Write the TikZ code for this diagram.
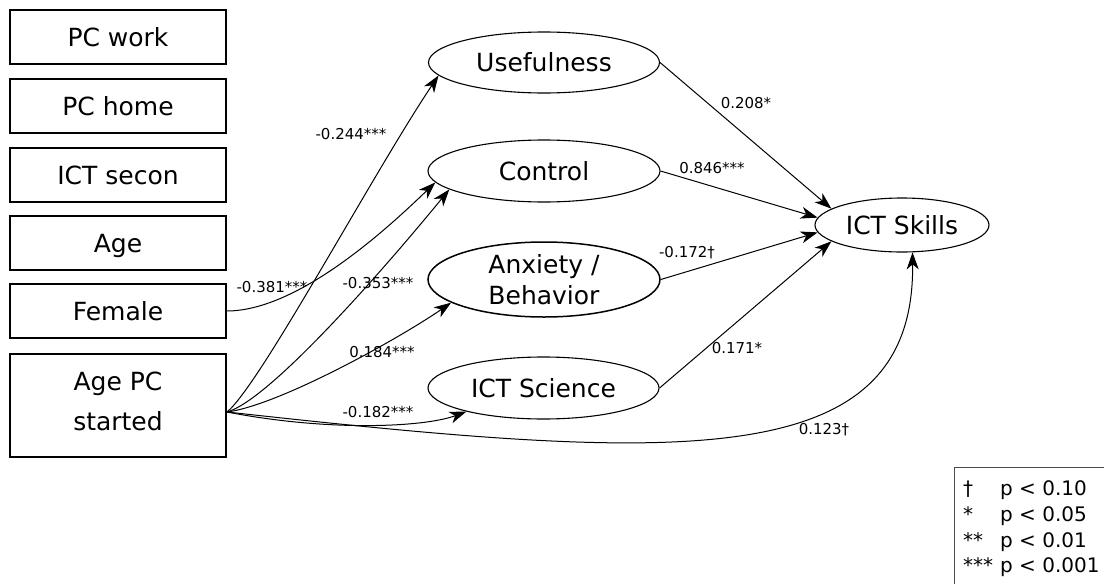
\documentclass[tikz,border=0pt]{standalone}
\usepackage{fontspec}
\setmainfont{DejaVu Sans}
\usetikzlibrary{shapes.geometric,arrows.meta,calc}

\begin{document}
\begin{tikzpicture}[x=1pt,y=-1pt,
  every node/.style={font=\fontsize{25}{31}\selectfont},
  obsbox/.style={draw, line width=1.2pt, minimum width=216pt, minimum height=54pt,
    inner sep=0pt, text height=18pt, text depth=0pt},
  latent/.style={draw, ellipse, line width=1.1pt, inner sep=0pt,
    text height=18pt, text depth=0pt},
  linetext/.style={anchor=base, inner sep=0pt},
  effect/.style={line width=1pt, -{Stealth[length=17pt,width=12pt,inset=5pt]}},
  coef/.style={font=\fontsize{15}{18}\selectfont, inner sep=1pt},
  keytext/.style={font=\fontsize{20}{26}\selectfont, anchor=base west, inner sep=0pt}]

\useasboundingbox (0,0) rectangle (1104,584);

% observed predictors
\node[obsbox] (pcwork) at (118,37)  {PC work};
\node[obsbox] (pchome) at (118,106) {PC home};
\node[obsbox] (ictsec) at (118,175) {ICT secon};
\node[obsbox] (age)    at (118,243) {Age};
\node[obsbox] (female) at (118,311) {Female};
\node[obsbox, minimum height=103pt, line width=2pt] (agepc) at (118,405.5) {};
\node[linetext] (agepcA) at (118,390) {Age PC};
\node[linetext] (agepcB) at (118,430) {started};
\coordinate (src) at ([yshift=-6.5pt]agepc.east);

% latent mediators
\node[latent, minimum width=231pt, minimum height=61pt] (use) at (544,62.5) {Usefulness};
\node[latent, minimum width=232pt, minimum height=62pt] (ctl) at (544,171) {Control};
\node[latent, minimum width=232pt, minimum height=75pt, line width=1.5pt] (anx) at (544,279.5) {};
\node[linetext] (anxA) at (544,273.3) {Anxiety /};
\node[linetext] (anxB) at (544,304) {Behavior};
\node[latent, minimum width=231pt, minimum height=62pt] (sci) at (543.5,388) {ICT Science};

% outcome
\node[latent, minimum width=174pt, minimum height=54pt] (skills) at (902,225) {ICT Skills};

% paths from the predictors
\draw[effect] (src) .. controls (260,385) and (372,175) .. (use.187);
\draw[effect] (src) .. controls (270,400) and (385,268) .. (ctl.191);
\draw[effect] (female.east) .. controls (300,311) and (392,224) .. (ctl.186);
\draw[effect] (src) .. controls (280,405) and (400,338) .. (anx.194);
\draw[effect] (src) .. controls (330,432) and (425,427) .. (sci.197);
\draw[effect] (src) .. controls (680,462) and (915,475) .. (skills.291);

% paths from the mediators
\draw[effect] (use.east) -- (skills.167);
\draw[effect] (ctl.east) -- (skills.175);
\draw[effect] (anx.east) -- (skills.185);
\draw[effect] (sci.east) -- (skills.193);

% coefficients
\node[coef] (c1)  at (351,134) {-0.244***};
\node[coef] (c2)  at (272,287) {-0.381***};
\node[coef] (c3)  at (378,283) {-0.353***};
\node[coef] (c4)  at (382,352) {0.184***};
\node[coef] (c5)  at (378,412) {-0.182***};
\node[coef] (c6)  at (746,103) {0.208*};
\node[coef] (c7)  at (712,168) {0.846***};
\node[coef] (c8)  at (687,253) {-0.172†};
\node[coef] (c9)  at (737,348) {0.171*};
\node[coef] (c10) at (824,430) {0.123†};

% significance key
\draw[line width=1pt, black!70] (954,590) -- (954,467) -- (1110,467);
\node[keytext] (k1s) at (963,495.5) {†};
\node[keytext] (k1p) at (1000,495.5) {p < 0.10};
\node[keytext] (k2s) at (963,521.3) {*};
\node[keytext] (k2p) at (1000,521.3) {p < 0.05};
\node[keytext] (k3s) at (963,547.1) {**};
\node[keytext] (k3p) at (1000,547.1) {p < 0.01};
\node[keytext] (k4s) at (963,572.9) {***};
\node[keytext] (k4p) at (1000,572.9) {p < 0.001};
\end{tikzpicture}
\end{document}
